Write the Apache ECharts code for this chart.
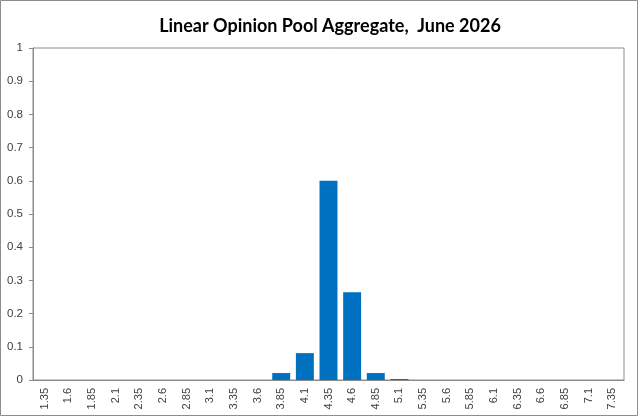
<!DOCTYPE html>
<html>
<head>
<meta charset="utf-8">
<script src="https://cdn.jsdelivr.net/npm/echarts@6/dist/echarts.min.js"></script>
<style>
  html, body { margin: 0; padding: 0; background: #fff; }
  #main { width: 638px; height: 416px; }
</style>
</head>
<body>
<div id="main"></div>
<script>
// bins of the pooled distribution
const categories = ['1.35', '1.6', '1.85', '2.1', '2.35', '2.6', '2.85', '3.1', '3.35', '3.6',
  '3.85', '4.1', '4.35', '4.6', '4.85', '5.1', '5.35', '5.6', '5.85', '6.1',
  '6.35', '6.6', '6.85', '7.1', '7.35'];
const probabilities = [0, 0, 0, 0, 0, 0, 0, 0, 0, 0,
  0.021, 0.081, 0.6, 0.264, 0.021, 0.003, 0, 0, 0, 0,
  0, 0, 0, 0, 0];

const chart = echarts.init(document.getElementById('main'));

let option = {
  animation: false,
  title: {
    text: 'Linear Opinion Pool Aggregate,  June 2026',
    left: 325,
    textAlign: 'center',
    top: 12,
    textStyle: {
      fontFamily: 'Lato',
      fontSize: 18,
      fontWeight: 'bold',
      color: '#000'
    }
  },
  graphic: [{
    type: 'rect',
    shape: { x: 0.5, y: 0.5, width: 637, height: 415 },
    style: { fill: 'none', stroke: '#8c8c8c', lineWidth: 1 },
    silent: true
  }],
  grid: {
    left: 33,
    right: 14,
    top: 48,
    bottom: 36,
    show: true,
    borderColor: '#8c8c8c',
    borderWidth: 1
  },
  xAxis: {
    type: 'category',
    data: categories,
    axisLine: { lineStyle: { color: '#8c8c8c' } },
    axisTick: { inside: true, length: 4, lineStyle: { color: '#8c8c8c' } },
    axisLabel: {
      rotate: 90,
      interval: 0,
      fontFamily: 'Liberation Sans',
      fontSize: 11,
      color: '#404040',
      margin: 8
    }
  },
  yAxis: {
    type: 'value',
    min: 0,
    max: 1,
    interval: 0.1,
    splitLine: { show: false },
    axisLine: { show: true, lineStyle: { color: '#8c8c8c' } },
    axisTick: { show: true, length: 4, lineStyle: { color: '#8c8c8c' } },
    axisLabel: {
      fontFamily: 'Liberation Sans',
      fontSize: 11.5,
      color: '#404040',
      margin: 10,
      formatter: v => String(Math.round(v * 10) / 10)
    }
  },
  series: [{
    type: 'bar',
    data: probabilities,
    barCategoryGap: '24%',
    itemStyle: {
      color: '#0070C0',
      borderWidth: 0
    }
  }]
};

chart.setOption(option);
</script>
</body>
</html>
